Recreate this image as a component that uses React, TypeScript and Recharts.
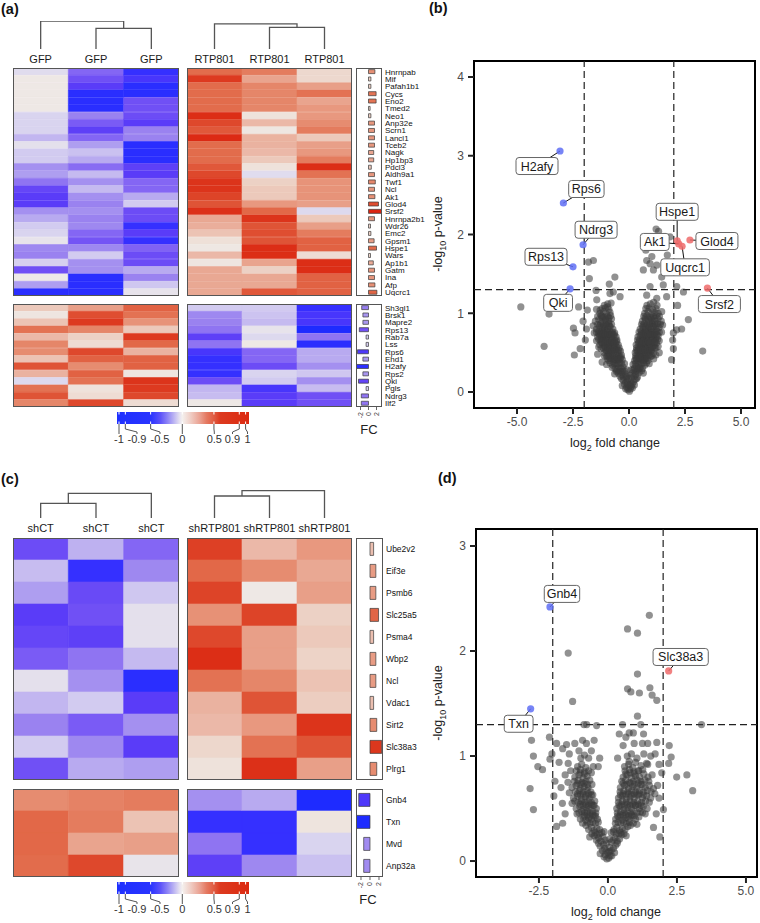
import React from 'react';
import { BarChart, Bar, Cell, XAxis, YAxis, ScatterChart, Scatter, ReferenceLine, ReferenceArea } from 'recharts';

// ---------------- data ----------------
const gfpLabels = ['GFP', 'GFP', 'GFP'];
const rtpLabels = ['RTP801', 'RTP801', 'RTP801'];
const shctLabels = ['shCT', 'shCT', 'shCT'];
const shrtpLabels = ['shRTP801', 'shRTP801', 'shRTP801'];

// dendrogram merges: [childA, childB, height] (leaves 0..2, merges numbered from 3)
const aGfpTree = [[1, 2, 0.74], [0, 3, 1.0]];
const aRtpTree = [[1, 2, 0.775], [0, 3, 0.9]];
const cCtTree = [[0, 1, 0.525], [3, 2, 0.88]];
const cRtpTree = [[0, 1, 0.786], [3, 2, 0.975]];

const aUpGenes = ['Hnrnpab', 'Mif', 'Pafah1b1', 'Cycs', 'Eno2', 'Tmed2', 'Neo1', 'Anp32e', 'Scrn1', 'Lancl1', 'Tceb2', 'Nagk', 'Hp1bp3', 'Pdcl3', 'Aldh9a1', 'Twf1', 'Ncl', 'Ak1', 'Glod4', 'Srsf2', 'Hnrnpa2b1', 'Wdr26', 'Emc2', 'Gpsm1', 'Hspe1', 'Wars', 'Ap1b1', 'Gatm', 'Ina', 'Afp', 'Uqcrc1'];
const aUpCtrl = [
  [-0.1, -0.6, -0.9], [0.02, -0.7, -0.85], [0.02, -0.8, -0.95], [0.02, -0.95, -0.95], [0.02, -0.95, -0.7],
  [0.02, -0.95, -0.7], [-0.15, -0.5, -0.72], [-0.15, -0.65, -0.8], [-0.15, -0.78, -0.5], [-0.3, -0.6, -0.5],
  [-0.07, -0.4, -0.95], [-0.2, -0.25, -0.95], [-0.2, -0.35, -0.95], [-0.45, -0.58, -0.78], [-0.4, -0.28, -0.8],
  [-0.55, -0.45, -0.6], [-0.75, -0.28, -0.6], [-0.8, -0.45, -0.35], [-0.8, -0.5, -0.2], [-0.45, -0.45, -0.72],
  [-0.35, -0.5, -0.72], [-0.2, -0.48, -0.9], [-0.15, -0.6, -0.8], [-0.05, -0.68, -0.9], [-0.48, -0.48, -0.62],
  [-0.5, -0.2, -0.72], [-0.17, -0.45, -0.72], [-0.7, -0.45, -0.35], [0.0, -0.95, -0.5], [-0.4, -0.95, -0.22],
  [-0.95, -0.95, -0.05],
];
const aUpTreat = [
  [0.6, 0.55, 0.14], [0.85, 0.4, 0.14], [0.6, 0.52, 0.42], [0.6, 0.52, 0.58], [0.6, 0.52, 0.4],
  [0.6, 0.52, 0.45], [0.92, 0.08, 0.45], [0.78, 0.3, 0.5], [0.7, 0.04, 0.55], [0.95, 0.33, 0.22],
  [0.6, 0.33, 0.42], [0.6, 0.3, 0.45], [0.6, 0.22, 0.55], [0.7, 0.08, 0.92], [0.78, -0.1, 0.58],
  [0.88, 0.18, 0.47], [0.88, 0.22, 0.47], [0.8, 0.22, 0.47], [0.72, 0.45, 0.42], [0.9, 0.62, -0.12],
  [0.38, 0.88, 0.22], [0.35, 0.72, 0.42], [0.25, 0.75, 0.55], [0.1, 0.72, 0.65], [0.03, 0.92, 0.65],
  [0.3, 0.92, 0.12], [0.05, 0.4, 0.92], [0.38, 0.18, 0.92], [0.38, 0.38, 0.65], [0.38, 0.38, 0.65],
  [0.38, 0.7, 0.65],
];
const aUpFC = [1.6, 0.6, 0.6, 1.9, 1.9, 0.4, 0.6, 1.5, 1.5, 1.5, 1.5, 1.3, 1.3, 0.7, 1.5, 1.7, 1.5, 1.6, 2.5, 3.4, 1.5, 0.5, 0.6, 1.4, 2.0, 0.5, 1.2, 1.5, 1.5, 1.6, 2.1];

const aDownGenes = ['Sh3gl1', 'Brsk1', 'Mapre2', 'Rps13', 'Rab7a', 'Lss', 'Rps6', 'Ehd1', 'H2afy', 'Rps2', 'Qki', 'Pgls', 'Ndrg3', 'Ilf2'];
const aDownCtrl = [
  [0.22, 0.42, 0.65], [0.05, 0.75, 0.58], [0.25, 0.85, 0.47], [0.58, 0.52, 0.22], [0.3, 0.18, 0.85],
  [0.52, 0.12, 0.62], [0.5, 0.78, 0.33], [0.25, 0.65, 0.65], [0.72, 0.5, 0.65], [0.33, 0.65, 0.05],
  [-0.12, 0.58, 0.88], [0.58, 0.08, 0.85], [0.72, 0.12, 0.78], [0.52, 0.78, 0.12],
];
const aDownTreat = [
  [-0.2, -0.2, -0.9], [-0.48, -0.24, -0.85], [-0.5, -0.28, -0.85], [-0.55, -0.05, -1.0], [-0.78, -0.12, -0.55],
  [-0.55, 0.02, -0.95], [-0.85, -0.6, -0.35], [-0.9, -0.6, -0.35], [-0.9, -0.72, -0.45], [-0.9, -0.15, -0.22],
  [-0.72, -0.2, -0.45], [-0.3, -0.85, -0.27], [-0.27, -0.8, -0.7], [0.02, -0.8, -0.7],
];
const aDownFC = [-1.7, -1.4, -1.4, -2.3, -0.6, -0.6, -2.75, -1.4, -3.1, -1.4, -2.5, -0.6, -1.8, -1.8];

const cUpGenes = ['Ube2v2', 'Eif3e', 'Psmb6', 'Slc25a5', 'Psma4', 'Wbp2', 'Ncl', 'Vdac1', 'Sirt2', 'Slc38a3', 'Plrg1'];
const cUpCtrl = [
  [-0.72, -0.32, -0.6], [-0.27, -0.9, -0.48], [-0.4, -0.73, -0.22], [-0.8, -0.7, -0.07], [-0.75, -0.78, -0.07],
  [-0.65, -0.55, -0.28], [-0.07, -0.45, -0.95], [-0.3, -0.2, -0.8], [-0.5, -0.65, -0.45], [-0.2, -0.48, -0.8],
  [-0.7, -0.35, -0.4],
];
const cUpTreat = [
  [0.82, 0.3, 0.45], [0.62, 0.5, 0.38], [0.8, 0.02, 0.42], [0.48, 0.8, 0.18], [0.78, 0.42, 0.22],
  [0.92, 0.42, 0.17], [0.58, 0.52, 0.25], [0.33, 0.72, 0.2], [0.3, 0.45, 0.88], [0.15, 0.58, 0.72],
  [0.08, 0.9, 0.42],
];
const cUpFC = [0.8, 1.3, 1.3, 1.9, 0.8, 1.3, 1.3, 0.8, 1.5, 2.6, 1.5];

const cDownGenes = ['Gnb4', 'Txn', 'Mvd', 'Anp32a'];
const cDownCtrl = [[0.5, 0.53, 0.55], [0.62, 0.55, 0.25], [0.62, 0.4, 0.42], [0.6, 0.78, -0.04]];
const cDownTreat = [[-0.45, -0.35, -1.0], [-0.9, -0.9, 0.06], [-0.55, -0.9, -0.15], [-0.78, -0.48, -0.25]];
const cDownFC = [-2.5, -3.0, -1.4, -1.4];

const colourBarTicks = [-1, -0.9, -0.5, 0, 0.5, 0.9, 1];

// volcano (b): non-significant genes [log2FC, -log10 p]
const bGray: number[][] = [
  [-0.05, 0.03], [0.02, 0.01], [0.06, 0.04], [-0.1, 0.06], [0.1, 0.07], [-0.02, 0.05],
  [-0.2, 0.1], [-0.14, 0.12], [0.14, 0.1], [0.2, 0.13], [-0.26, 0.15], [0.27, 0.16], [0.08, 0.12], [-0.08, 0.14],
  [-0.4, 0.2], [-0.32, 0.22], [-0.24, 0.19], [0.22, 0.2], [0.3, 0.22], [0.38, 0.19], [-0.48, 0.24], [0.46, 0.25], [0.15, 0.24], [-0.16, 0.23],
  [-0.62, 0.3], [-0.54, 0.28], [-0.45, 0.31], [-0.36, 0.3], [-0.27, 0.32], [0.24, 0.3], [0.32, 0.33], [0.4, 0.29], [0.5, 0.31], [0.6, 0.3], [-0.72, 0.34], [0.7, 0.34], [0.18, 0.35], [-0.2, 0.36],
  [-0.9, 0.4], [-0.8, 0.42], [-0.7, 0.39], [-0.6, 0.41], [-0.5, 0.4], [-0.4, 0.43], [-0.3, 0.41], [0.25, 0.4], [0.34, 0.42], [0.44, 0.39], [0.54, 0.41], [0.64, 0.4], [0.74, 0.43], [0.84, 0.4], [-1.0, 0.45], [0.95, 0.45], [-1.2, 0.38], [1.1, 0.42],
  [-1.1, 0.5], [-1.0, 0.52], [-0.9, 0.49], [-0.8, 0.51], [-0.7, 0.5], [-0.6, 0.53], [-0.5, 0.5], [-0.38, 0.52], [0.28, 0.5], [0.38, 0.52], [0.48, 0.49], [0.58, 0.51], [0.68, 0.5], [0.78, 0.53], [0.88, 0.5], [0.98, 0.52], [1.08, 0.49], [-1.25, 0.55], [1.2, 0.56], [-1.4, 0.48], [1.35, 0.5],
  [-1.3, 0.6], [-1.2, 0.62], [-1.1, 0.59], [-1.0, 0.61], [-0.9, 0.6], [-0.8, 0.63], [-0.7, 0.6], [-0.6, 0.62], [-0.48, 0.6], [0.32, 0.6], [0.42, 0.62], [0.52, 0.59], [0.62, 0.61], [0.72, 0.6], [0.82, 0.63], [0.92, 0.6], [1.02, 0.62], [1.12, 0.59], [1.22, 0.62], [-1.45, 0.65], [1.35, 0.65],
  [-1.4, 0.7], [-1.3, 0.72], [-1.2, 0.69], [-1.1, 0.71], [-1.0, 0.7], [-0.9, 0.73], [-0.8, 0.7], [-0.7, 0.72], [-0.58, 0.7], [0.4, 0.7], [0.5, 0.72], [0.6, 0.69], [0.7, 0.71], [0.8, 0.7], [0.9, 0.73], [1.0, 0.7], [1.1, 0.72], [1.2, 0.69], [1.3, 0.71], [-1.55, 0.75], [1.45, 0.76],
  [-1.45, 0.8], [-1.32, 0.82], [-1.2, 0.79], [-1.08, 0.81], [-0.96, 0.8], [-0.84, 0.83], [-0.72, 0.8], [0.5, 0.8], [0.62, 0.82], [0.74, 0.79], [0.86, 0.81], [0.98, 0.8], [1.1, 0.83], [1.22, 0.8], [1.34, 0.82], [-1.6, 0.84], [1.5, 0.85],
  [-1.5, 0.9], [-1.35, 0.92], [-1.2, 0.89], [-1.05, 0.91], [-0.9, 0.9], [-0.78, 0.93], [0.6, 0.9], [0.74, 0.92], [0.88, 0.89], [1.02, 0.91], [1.16, 0.9], [1.3, 0.93], [1.44, 0.9],
  [-1.3, 1.0], [-1.15, 1.02], [-1.0, 0.99], [-0.85, 1.01], [0.7, 1.0], [0.85, 1.02], [1.0, 0.99], [1.15, 1.01], [1.3, 1.0], [-1.45, 1.05],
  [-1.1, 1.1], [-0.95, 1.12], [-0.8, 1.13], [0.8, 1.1], [0.95, 1.12], [1.1, 1.14], [1.25, 1.1],
  [-0.15, 0.04], [0.15, 0.05], [-0.06, 0.1], [0.04, 0.09],
  [-0.34, 0.17], [0.34, 0.17], [-0.02, 0.17], [0.1, 0.18], [-0.12, 0.19], [0.24, 0.09], [-0.3, 0.08],
  [-0.56, 0.26], [-0.36, 0.26], [-0.28, 0.27], [0.28, 0.26], [0.36, 0.27], [0.56, 0.27], [0.1, 0.28], [-0.1, 0.28], [0.64, 0.24], [-0.64, 0.23],
  [-0.85, 0.37], [-0.66, 0.36], [-0.58, 0.36], [-0.5, 0.36], [-0.42, 0.37], [-0.34, 0.36], [0.28, 0.36], [0.36, 0.37], [0.45, 0.35], [0.55, 0.36], [0.65, 0.37], [0.78, 0.37], [0.9, 0.36], [-1.0, 0.35],
  [-1.1, 0.46], [-0.95, 0.46], [-0.85, 0.47], [-0.75, 0.46], [-0.65, 0.45], [-0.55, 0.47], [-0.45, 0.46], [-0.34, 0.47], [0.3, 0.46], [0.4, 0.47], [0.5, 0.45], [0.6, 0.46], [0.7, 0.47], [0.8, 0.46], [0.9, 0.47], [1.02, 0.46], [1.2, 0.47],
  [-1.35, 0.57], [-1.15, 0.56], [-1.05, 0.57], [-0.95, 0.56], [-0.85, 0.57], [-0.75, 0.56], [-0.65, 0.57], [-0.55, 0.57], [-0.44, 0.56], [0.34, 0.56], [0.44, 0.57], [0.54, 0.56], [0.64, 0.57], [0.74, 0.56], [0.84, 0.57], [0.94, 0.56], [1.04, 0.57], [1.14, 0.56], [1.3, 0.58],
  [-1.35, 0.67], [-1.25, 0.66], [-1.15, 0.67], [-1.05, 0.66], [-0.95, 0.67], [-0.85, 0.66], [-0.75, 0.67], [-0.65, 0.66], [-0.54, 0.66], [0.38, 0.66], [0.48, 0.67], [0.58, 0.66], [0.68, 0.67], [0.78, 0.66], [0.88, 0.67], [0.98, 0.66], [1.08, 0.67], [1.18, 0.66], [1.28, 0.67],
  [-1.45, 0.76], [-1.35, 0.77], [-1.25, 0.75], [-1.15, 0.76], [-1.05, 0.77], [-0.95, 0.76], [-0.85, 0.77], [-0.75, 0.76], [-0.64, 0.75], [0.45, 0.76], [0.55, 0.77], [0.65, 0.75], [0.75, 0.76], [0.85, 0.77], [0.95, 0.76], [1.05, 0.77], [1.15, 0.76], [1.25, 0.77], [1.35, 0.76],
  [-1.4, 0.86], [-1.26, 0.87], [-1.14, 0.85], [-1.02, 0.86], [-0.9, 0.87], [-0.78, 0.86], [0.56, 0.86], [0.68, 0.87], [0.8, 0.85], [0.92, 0.86], [1.04, 0.87], [1.16, 0.86], [1.28, 0.87], [1.4, 0.86],
  [-1.4, 0.96], [-1.25, 0.97], [-1.1, 0.95], [-0.95, 0.96], [-0.82, 0.97], [0.66, 0.96], [0.8, 0.97], [0.94, 0.95], [1.08, 0.96], [1.22, 0.97], [1.36, 0.96],
  [-1.2, 1.06], [-1.05, 1.07], [-0.9, 1.05], [0.75, 1.06], [0.9, 1.07], [1.05, 1.05], [1.2, 1.06],
  [-0.1, 0.2], [0.05, 0.21], [-0.2, 0.27], [0.2, 0.28], [-0.45, 0.27], [0.45, 0.3],
  [-0.75, 0.31], [-0.66, 0.42], [-0.55, 0.44], [-0.45, 0.42], [-0.35, 0.44], [0.3, 0.43], [0.4, 0.44], [0.5, 0.43], [0.6, 0.44], [0.7, 0.42], [0.8, 0.43], [-0.85, 0.43], [-0.95, 0.42],
  [-1.05, 0.54], [-0.95, 0.53], [-0.85, 0.54], [-0.75, 0.53], [-0.65, 0.54], [-0.55, 0.54], [-0.45, 0.53], [0.33, 0.53], [0.43, 0.54], [0.53, 0.53], [0.63, 0.54], [0.73, 0.53], [0.83, 0.54], [0.93, 0.53], [1.03, 0.54],
  [-1.25, 0.64], [-1.15, 0.64], [-1.05, 0.63], [-0.95, 0.64], [-0.85, 0.63], [-0.75, 0.64], [-0.65, 0.63], [-0.55, 0.64], [0.45, 0.64], [0.55, 0.63], [0.65, 0.64], [0.75, 0.63], [0.85, 0.64], [0.95, 0.63], [1.05, 0.64], [1.15, 0.63],
  [-1.35, 0.74], [-1.25, 0.73], [-1.15, 0.74], [-1.05, 0.73], [-0.95, 0.74], [-0.85, 0.73], [-0.75, 0.74], [-0.65, 0.73], [0.55, 0.74], [0.65, 0.73], [0.75, 0.74], [0.85, 0.73], [0.95, 0.74], [1.05, 0.73], [1.15, 0.74], [1.25, 0.73],
  [-1.3, 0.84], [-1.15, 0.83], [-1.0, 0.84], [-0.88, 0.84], [0.62, 0.84], [0.74, 0.83], [0.9, 0.84], [1.05, 0.83], [1.2, 0.84],
  [-1.2, 0.94], [-1.05, 0.93], [-0.9, 0.94], [0.72, 0.94], [0.86, 0.93], [1.0, 0.94], [1.15, 0.93],
  [-4.83, 1.08], [-3.79, 0.58], [-3.57, 0.99], [-2.7, 1.09], [-2.48, 0.81], [-2.41, 0.75], [-2.44, 0.47], [-2.18, 0.55], [-2.25, 1.08],
  [-1.81, 1.65], [-1.59, 1.67], [-1.77, 1.44], [-1.86, 1.04], [-1.47, 1.29], [-1.44, 1.17], [-0.88, 1.37], [-0.63, 1.46], [-0.7, 1.27],
  [-1.29, 1.04], [-1.21, 0.96], [-0.85, 1.25], [-0.95, 1.08], [-0.4, 1.21], [-1.9, 0.8], [-1.95, 0.66], [-2.05, 0.9],
  [0.64, 1.55], [0.79, 1.67], [0.94, 1.63], [1.09, 1.55], [1.24, 1.61], [1.46, 1.46], [1.71, 1.74], [1.12, 1.97], [1.32, 2.04], [1.83, 1.97],
  [1.24, 1.19], [0.79, 1.23], [0.94, 1.34], [1.53, 1.36], [1.68, 1.21], [2.13, 1.34], [2.17, 1.1], [2.43, 1.27], [2.65, 0.92], [2.35, 0.8],
  [1.98, 0.75], [1.98, 0.55], [3.29, 0.52], [1.46, 1.02], [1.21, 2.07], [1.95, 0.66], [2.13, 0.79], [1.9, 0.41], [0.75, 1.8], [1.02, 1.72],
];
const bDown = [
  { gene: 'H2afy', x: -3.08, y: 3.06 }, { gene: 'Rps6', x: -2.93, y: 2.4 }, { gene: 'Ndrg3', x: -2.05, y: 1.87 },
  { gene: 'Rps13', x: -2.5, y: 1.59 }, { gene: 'Qki', x: -2.63, y: 1.31 },
];
const bUp = [
  { gene: 'Hspe1', x: 2.15, y: 1.92 }, { gene: 'Ak1', x: 2.22, y: 1.88 }, { gene: 'Uqcrc1', x: 2.37, y: 1.85 },
  { gene: 'Glod4', x: 2.72, y: 1.93 }, { gene: 'Srsf2', x: 3.5, y: 1.32 },
];

// volcano (d)
const dGray: number[][] = [
  [-0.04, 0.02], [0.03, 0.03], [0.08, 0.05], [-0.1, 0.06], [0.0, 0.08],
  [-0.2, 0.1], [-0.12, 0.12], [0.12, 0.1], [0.2, 0.12], [-0.28, 0.14], [0.28, 0.15], [0.06, 0.13],
  [-0.42, 0.2], [-0.34, 0.22], [-0.26, 0.19], [-0.18, 0.23], [0.18, 0.2], [0.26, 0.22], [0.34, 0.19], [0.42, 0.21], [-0.5, 0.24], [0.5, 0.25],
  [-0.7, 0.3], [-0.6, 0.32], [-0.5, 0.29], [-0.4, 0.31], [-0.3, 0.3], [0.22, 0.3], [0.32, 0.32], [0.42, 0.29], [0.52, 0.31], [0.62, 0.3], [0.72, 0.33], [-0.8, 0.34], [0.82, 0.34],
  [-1.0, 0.4], [-0.9, 0.42], [-0.8, 0.39], [-0.7, 0.41], [-0.6, 0.4], [-0.5, 0.43], [-0.38, 0.4], [0.28, 0.4], [0.4, 0.42], [0.52, 0.39], [0.64, 0.41], [0.76, 0.4], [0.88, 0.43], [1.0, 0.4], [1.12, 0.42], [-1.12, 0.45], [1.25, 0.46],
  [-1.15, 0.5], [-1.02, 0.52], [-0.9, 0.49], [-0.78, 0.51], [-0.66, 0.5], [-0.54, 0.53], [-0.42, 0.5], [0.32, 0.5], [0.45, 0.52], [0.58, 0.49], [0.72, 0.51], [0.86, 0.5], [1.0, 0.53], [1.14, 0.5], [1.28, 0.52], [1.42, 0.5], [-1.3, 0.55],
  [-1.25, 0.6], [-1.1, 0.62], [-0.96, 0.59], [-0.82, 0.61], [-0.68, 0.6], [-0.55, 0.63], [0.38, 0.6], [0.52, 0.62], [0.66, 0.59], [0.8, 0.61], [0.95, 0.6], [1.1, 0.63], [1.25, 0.6], [1.4, 0.62], [1.55, 0.6], [-1.4, 0.65], [1.7, 0.64],
  [-1.3, 0.7], [-1.15, 0.72], [-1.0, 0.69], [-0.86, 0.71], [-0.72, 0.7], [-0.58, 0.73], [0.45, 0.7], [0.6, 0.72], [0.75, 0.69], [0.9, 0.71], [1.05, 0.7], [1.2, 0.73], [1.35, 0.7], [1.5, 0.72], [1.65, 0.69], [1.8, 0.72], [-1.45, 0.75],
  [-1.2, 0.8], [-1.05, 0.82], [-0.9, 0.79], [-0.75, 0.81], [-0.6, 0.84], [0.55, 0.8], [0.7, 0.82], [0.85, 0.79], [1.0, 0.81], [1.15, 0.8], [1.3, 0.83], [1.45, 0.8], [1.6, 0.82], [-1.35, 0.86],
  [-1.1, 0.9], [-0.95, 0.92], [-0.8, 0.89], [0.6, 0.9], [0.75, 0.92], [0.9, 0.89], [1.2, 0.91], [1.4, 0.93],
  [-0.98, 0.98], [-0.85, 1.01], [0.7, 1.0], [0.85, 1.02], [1.05, 0.98],
  [-0.14, 0.04], [0.14, 0.05], [-0.06, 0.1], [0.05, 0.09],
  [-0.34, 0.17], [0.34, 0.17], [-0.05, 0.17], [0.12, 0.18], [-0.16, 0.16], [0.24, 0.08], [-0.28, 0.07],
  [-0.58, 0.26], [-0.46, 0.27], [-0.3, 0.26], [0.3, 0.26], [0.46, 0.27], [0.58, 0.26], [0.12, 0.27], [-0.14, 0.28], [0.66, 0.24], [-0.66, 0.23],
  [-0.92, 0.36], [-0.75, 0.37], [-0.65, 0.36], [-0.55, 0.37], [-0.45, 0.36], [-0.35, 0.37], [0.27, 0.36], [0.37, 0.37], [0.47, 0.36], [0.57, 0.37], [0.67, 0.36], [0.78, 0.37], [0.92, 0.36], [1.05, 0.35],
  [-1.05, 0.46], [-0.95, 0.47], [-0.85, 0.46], [-0.75, 0.47], [-0.65, 0.46], [-0.55, 0.47], [-0.44, 0.46], [0.34, 0.46], [0.46, 0.47], [0.58, 0.46], [0.7, 0.47], [0.82, 0.46], [0.94, 0.47], [1.06, 0.46], [1.18, 0.47], [1.35, 0.45],
  [-1.2, 0.57], [-1.08, 0.56], [-0.96, 0.57], [-0.84, 0.56], [-0.72, 0.57], [-0.6, 0.56], [-0.48, 0.57], [0.38, 0.56], [0.52, 0.57], [0.66, 0.56], [0.8, 0.57], [0.94, 0.56], [1.08, 0.57], [1.22, 0.56], [1.36, 0.57], [1.5, 0.56],
  [-1.18, 0.66], [-1.04, 0.67], [-0.9, 0.66], [-0.76, 0.67], [-0.62, 0.66], [0.44, 0.66], [0.58, 0.67], [0.72, 0.66], [0.86, 0.67], [1.0, 0.66], [1.14, 0.67], [1.28, 0.66], [1.42, 0.67], [1.56, 0.66],
  [-1.22, 0.76], [-1.08, 0.77], [-0.94, 0.75], [-0.8, 0.76], [-0.66, 0.77], [0.5, 0.76], [0.64, 0.77], [0.78, 0.75], [0.92, 0.76], [1.06, 0.77], [1.2, 0.76], [1.34, 0.77], [1.48, 0.76],
  [-1.15, 0.86], [-1.0, 0.87], [-0.85, 0.85], [-0.7, 0.86], [0.62, 0.86], [0.78, 0.87], [0.94, 0.85], [1.1, 0.86], [1.26, 0.87],
  [-0.1, 0.2], [0.06, 0.21], [-0.22, 0.27], [0.2, 0.28], [-0.4, 0.25], [0.4, 0.26],
  [-0.85, 0.43], [-0.75, 0.44], [-0.65, 0.43], [-0.55, 0.44], [-0.45, 0.43], [0.35, 0.43], [0.45, 0.44], [0.55, 0.43], [0.65, 0.44], [0.75, 0.43], [0.85, 0.44], [0.95, 0.43],
  [-1.0, 0.54], [-0.9, 0.53], [-0.8, 0.54], [-0.7, 0.53], [-0.6, 0.54], [-0.5, 0.53], [0.4, 0.53], [0.5, 0.54], [0.6, 0.53], [0.7, 0.54], [0.8, 0.53], [0.9, 0.54], [1.0, 0.53], [1.1, 0.54], [1.2, 0.53],
  [-1.1, 0.64], [-1.0, 0.63], [-0.9, 0.64], [-0.8, 0.63], [-0.7, 0.64], [-0.6, 0.63], [0.45, 0.63], [0.55, 0.64], [0.65, 0.63], [0.75, 0.64], [0.85, 0.63], [0.95, 0.64], [1.05, 0.63], [1.15, 0.64], [1.3, 0.63],
  [-1.1, 0.74], [-0.98, 0.73], [-0.86, 0.74], [-0.74, 0.73], [0.55, 0.74], [0.68, 0.73], [0.82, 0.74], [0.96, 0.73], [1.1, 0.74], [1.25, 0.73],
  [-1.0, 0.84], [-0.85, 0.83], [0.65, 0.83], [0.8, 0.84], [0.95, 0.83],
  [-1.55, 0.82], [-1.7, 0.7], [-1.4, 1.02], [-1.2, 1.12], [-1.05, 1.05], [-0.7, 0.98], [-0.5, 1.15], [-0.3, 0.98], [0.35, 0.98], [0.55, 1.1],
  [0.65, 1.18], [1.25, 1.12], [1.55, 1.0], [1.85, 0.92], [1.85, 0.6], [1.75, 0.45], [1.65, 0.32], [-1.65, 0.55], [-1.55, 0.45],
  [-2.77, 1.15], [-2.7, 1.0], [-2.54, 0.9], [-2.37, 0.87], [-2.82, 0.69], [-2.7, 0.49], [-2.12, 1.18], [-2.03, 1.02], [-2.1, 0.97],
  [-1.92, 0.76], [-1.96, 0.62], [-1.86, 0.33], [-1.64, 0.36], [-1.86, 1.12], [-1.64, 1.07], [-1.5, 1.11], [-1.77, 0.94], [-1.44, 0.93],
  [-1.28, 1.52], [-0.92, 1.15], [-0.78, 1.12], [-0.6, 1.05], [-0.87, 1.3], [-0.41, 1.29], [-0.77, 1.3], [-0.53, 0.9], [-0.35, 0.9],
  [0.41, 1.21], [0.53, 1.3], [0.77, 1.22], [0.92, 1.22], [1.07, 1.38], [1.19, 1.3], [1.29, 1.21], [0.95, 1.12], [1.44, 1.12],
  [1.77, 1.13], [1.71, 1.02], [1.3, 1.02], [0.77, 0.95], [1.0, 0.94], [1.12, 0.86], [1.44, 0.92], [1.77, 1.53], [1.6, 1.58],
  [0.83, 1.61], [1.14, 1.6], [2.22, 1.1], [2.29, 0.99], [2.2, 0.93], [2.49, 0.8], [2.86, 0.82], [3.07, 0.67], [1.95, 0.84],
  [2.01, 0.49], [1.88, 0.23], [3.39, 1.3], [-1.44, 1.98], [1.5, 2.34], [0.71, 2.21], [1.07, 2.17], [1.07, 1.78], [0.71, 1.64], [1.52, 1.65],
];
const dDown = [{ gene: 'Gnb4', x: -2.1, y: 2.42 }, { gene: 'Txn', x: -2.8, y: 1.45 }];
const dUp = [{ gene: 'Slc38a3', x: 2.2, y: 1.81 }];

// ---------------- layout / style ----------------
const FONT = '"Liberation Sans", Arial, Helvetica, sans-serif';
const labelOffsets: Record<string, number[]> = {
  H2afy: [-23, 15], Rps6: [23, -14], Ndrg3: [13, -15], Rps13: [-27, -10], Qki: [-12, 14],
  Hspe1: [0, -29], Ak1: [-24, -2], Uqcrc1: [3, 21], Glod4: [27, 1], Srsf2: [12, 16],
  Gnb4: [12, -13], Slc38a3: [12, -14], Txn: [-12, 15],
};

const heatStops: [number, string][] = [
  [-1.0, '#1e2bff'], [-0.9, '#3530ff'], [-0.8, '#5a3cf8'], [-0.7, '#7050f5'], [-0.6, '#8466f4'],
  [-0.5, '#9a82f0'], [-0.4, '#ae9ef0'], [-0.3, '#c2b6f0'], [-0.2, '#d2cbf0'], [-0.1, '#e0dcee'],
  [0, '#eeeae8'], [0.1, '#eee0d8'], [0.2, '#eccdc0'], [0.3, '#ebb8a8'], [0.4, '#e9a48e'],
  [0.5, '#e68c70'], [0.6, '#e26c4c'], [0.7, '#e0583a'], [0.8, '#dd4428'], [0.9, '#dc3018'], [1.0, '#dc2410'],
];
function hexToRgb(h: string) {
  return [parseInt(h.slice(1, 3), 16), parseInt(h.slice(3, 5), 16), parseInt(h.slice(5, 7), 16)];
}
function heatColour(v: number) {
  const t = Math.max(-1, Math.min(1, v));
  for (let i = 0; i < heatStops.length - 1; i++) {
    const [a, ca] = heatStops[i];
    const [b, cb] = heatStops[i + 1];
    if (t >= a && t <= b) {
      const f = (t - a) / (b - a);
      const A = hexToRgb(ca), B = hexToRgb(cb);
      const c = A.map((x, k) => Math.round(x + (B[k] - x) * f));
      return `rgb(${c[0]},${c[1]},${c[2]})`;
    }
  }
  return heatStops[heatStops.length - 1][1];
}

const NoDot = () => <g />;

function Dendro({ merges, labels, left, top, width }: any) {
  const xs = [0.5, 1.5, 2.5];
  const hs = [0, 0, 0];
  const paths: { x: number; y: number }[][] = [];
  merges.forEach(([a, b, h]: number[]) => {
    paths.push([
      { x: xs[a], y: hs[a] }, { x: xs[a], y: h }, { x: xs[b], y: h }, { x: xs[b], y: hs[b] },
    ]);
    xs.push((xs[a] + xs[b]) / 2);
    hs.push(h);
  });
  return (
    <div style={{ position: 'absolute', left, top }}>
      <ScatterChart width={width} height={46} margin={{ top: 0, right: 0, bottom: 0, left: 0 }}>
        <XAxis type="number" dataKey="x" domain={[0, 3]} ticks={[0.5, 1.5, 2.5]} interval={0} allowDataOverflow
          tickFormatter={(v: number) => labels[Math.floor(v)]} height={18} tickLine={false} axisLine={false}
          tickSize={0} tickMargin={6} tick={{ fontSize: 11, fill: '#1a1a1a' }} />
        <YAxis type="number" dataKey="y" domain={[0, 1]} hide allowDataOverflow />
        {paths.map((p, i) => (
          <Scatter key={i} data={p} isAnimationActive={false} shape={NoDot}
            line={{ stroke: '#555', strokeWidth: 1.3 }} lineType="joint" />
        ))}
      </ScatterChart>
    </div>
  );
}

function HeatBlock({ genes, values, left, top, width, height }: any) {
  const data = genes.map((g: string) => ({ gene: g, c0: 1, c1: 1, c2: 1 }));
  return (
    <div style={{ position: 'absolute', left, top, width, height }}>
      <BarChart layout="vertical" width={width} height={height} data={data} margin={{ top: 0, right: 0, bottom: 0, left: 0 }} barCategoryGap={0} barGap={0}>
        <XAxis type="number" domain={[0, 3]} hide />
        <YAxis type="category" dataKey="gene" hide />
        {[0, 1, 2].map((j) => (
          <Bar key={j} dataKey={'c' + j} stackId="s" isAnimationActive={false}>
            {values.map((row: number[], i: number) => (
              <Cell key={i} fill={heatColour(row[j])} stroke={heatColour(row[j])} strokeWidth={0.6} />
            ))}
          </Bar>
        ))}
      </BarChart>
      <div style={{ position: 'absolute', left: 0, top: 0, width, height, border: '1.2px solid #555', boxSizing: 'border-box' }} />
    </div>
  );
}

const RotTick = (props: any) => {
  const { x, y, payload } = props;
  return (
    <text transform={`translate(${x + 2.5},${y}) rotate(-90)`} textAnchor="end" fontSize={7} fill="#444">
      {payload.value}
    </text>
  );
};

function FCBars({ genes, fc, div, left, top, plotW, plotH, showAxis, fontSize, domain, gap }: any) {
  const data = genes.map((g: string, i: number) => ({ gene: g, fc: fc[i] }));
  const axisH = showAxis ? 16 : 0;
  const labelW = 48;
  return (
    <div style={{ position: 'absolute', left, top, width: plotW + labelW, height: plotH + axisH }}>
      <BarChart layout="vertical" width={plotW + labelW} height={plotH + axisH} data={data}
        margin={{ top: 0, right: 0, bottom: 0, left: 0 }} barCategoryGap={gap}>
        <XAxis type="number" domain={domain} ticks={[-2, 0, 2]} hide={!showAxis} height={axisH} axisLine={false}
          tickSize={3} tickMargin={2} tickLine={{ stroke: '#666' }} tick={<RotTick />} interval={0} allowDataOverflow />
        <YAxis type="category" dataKey="gene" orientation="right" width={labelW} interval={0} tickLine={false}
          axisLine={false} tickSize={0} tickMargin={3} tick={{ fontSize, fill: '#111' }} />
        <Bar dataKey="fc" isAnimationActive={false} stroke="#3a3a3a" strokeWidth={0.7}>
          {fc.map((v: number, i: number) => (
            <Cell key={i} fill={heatColour(v / div)} />
          ))}
        </Bar>
      </BarChart>
      <div style={{ position: 'absolute', left: 0, top: 0, width: plotW, height: plotH, border: '1.2px solid #555', boxSizing: 'border-box' }} />
    </div>
  );
}

const GrayDot = (props: any) => <circle cx={props.cx} cy={props.cy} r={3.6} fill="#3a3a3a" fillOpacity={0.56} />;

function makeLabeled(colour: string) {
  return (props: any) => {
    const { cx, cy, payload } = props;
    const off = labelOffsets[payload.gene] || [0, -20];
    const lx = cx + off[0];
    const ly = cy + off[1];
    const w = payload.gene.length * 6.6 + 9;
    const h = 17;
    return (
      <g>
        <line x1={cx} y1={cy} x2={lx} y2={ly} stroke="#111" strokeWidth={1} />
        <circle cx={cx} cy={cy} r={3.6} fill={colour} fillOpacity={0.85} />
        <rect x={lx - w / 2} y={ly - h / 2} width={w} height={h} rx={3} ry={3} fill="#fff" stroke="#666" strokeWidth={1} />
        <text x={lx} y={ly + 4.5} textAnchor="middle" fontSize={12.5} fill="#1a1a1a">{payload.gene}</text>
      </g>
    );
  };
}
const BlueLabeled = makeLabeled('#5f6ff5');
const RedLabeled = makeLabeled('#ef6b6b');

function Volcano({ gray, up, down, left, top, width, height, margin, xDomain, yDomain, xTicks, yTicks, xAxisH, yAxisW }: any) {
  const grayData = gray.map((p: number[]) => ({ x: p[0], y: p[1] }));
  const axisTick = { fontSize: 12, fill: '#4d4d4d' };
  return (
    <div style={{ position: 'absolute', left, top }}>
      <ScatterChart width={width} height={height} margin={margin}>
        <XAxis type="number" dataKey="x" domain={xDomain} ticks={xTicks} interval={0} allowDataOverflow
          tickFormatter={(v: number) => v.toFixed(1)} height={xAxisH} axisLine={false} tickSize={6} tickMargin={3}
          tickLine={{ stroke: '#222', strokeWidth: 2 }} tick={axisTick} />
        <YAxis type="number" dataKey="y" domain={yDomain} ticks={yTicks} interval={0} allowDataOverflow
          width={yAxisW} axisLine={false} tickSize={6} tickMargin={4}
          tickLine={{ stroke: '#222', strokeWidth: 2 }} tick={axisTick} />
        <ReferenceLine x={-2} stroke="#222" strokeDasharray="7 4" strokeWidth={1.2} />
        <ReferenceLine x={2} stroke="#222" strokeDasharray="7 4" strokeWidth={1.2} />
        <ReferenceLine y={1.3} stroke="#222" strokeDasharray="7 4" strokeWidth={1.2} />
        <Scatter data={grayData} isAnimationActive={false} shape={GrayDot} />
        <Scatter data={down} isAnimationActive={false} shape={BlueLabeled} />
        <Scatter data={up} isAnimationActive={false} shape={RedLabeled} />
        <ReferenceArea x1={xDomain[0]} x2={xDomain[1]} y1={yDomain[0]} y2={yDomain[1]} fill="none" fillOpacity={0}
          stroke="#000" strokeWidth={2} ifOverflow="visible" />
      </ScatterChart>
    </div>
  );
}

// colour bar legend
const cbLeft = 117, cbWidth = 132, cbHeight = 12;
const cbValueX = (v: number) => 182.3 + v * 63.3;
const cbLabelX = [119, 137, 160, 182.3, 214.3, 232.5, 247.5];
const cbStops: [number, string][] = [
  [0, '#1e30ff'], [0.258, '#2a34ff'], [0.326, '#5a50fa'], [0.379, '#8a80f6'], [0.427, '#b8b0f3'],
  [0.477, '#e8e4f0'], [0.495, '#f4f0ee'], [0.553, '#f0d0c8'], [0.629, '#eaa090'], [0.68, '#e47860'],
  [0.737, '#e05a40'], [0.78, '#dc3a20'], [1, '#dc2a10'],
];
function ColourBar({ y, id }: any) {
  const bottom = y + cbHeight;
  return (
    <g>
      <defs>
        <linearGradient id={id} x1="0" x2="1" y1="0" y2="0">
          {cbStops.map(([o, c], i) => <stop key={i} offset={o} stopColor={c} />)}
        </linearGradient>
      </defs>
      <rect x={cbLeft} y={y} width={cbWidth} height={cbHeight} fill={`url(#${id})`} />
      {colourBarTicks.map((v, i) => {
        const tx = cbValueX(v);
        const lx = cbLabelX[i];
        return (
          <g key={i}>
            <line x1={tx} y1={y} x2={tx} y2={y + 2.5} stroke="#fff" strokeWidth={1} />
            <line x1={tx} y1={bottom - 2.5} x2={tx} y2={bottom} stroke="#fff" strokeWidth={1} />
            <polyline points={`${tx},${bottom} ${tx},${bottom + 5} ${lx},${bottom + 8} ${lx},${bottom + 10}`} fill="none" stroke="#555" strokeWidth={1} />
            <text x={lx} y={bottom + 19} textAnchor="middle" fontSize={11} fill="#333">{v}</text>
          </g>
        );
      })}
    </g>
  );
}

function Overlay() {
  const sub = (main: string, s: string, rest: string) => (
    <>
      {main}
      <tspan dy={3.5} fontSize={9}>{s}</tspan>
      <tspan dy={-3.5}>{rest}</tspan>
    </>
  );
  return (
    <svg width={760} height={923} style={{ position: 'absolute', left: 0, top: 0, pointerEvents: 'none' }}>
      <g fontFamily={FONT}>
        <text x={1} y={14} fontSize={14.5} fontWeight="bold" fill="#111">(a)</text>
        <text x={429} y={13} fontSize={14.5} fontWeight="bold" fill="#111">(b)</text>
        <text x={1} y={484} fontSize={14.5} fontWeight="bold" fill="#111">(c)</text>
        <text x={438} y={483} fontSize={14.5} fontWeight="bold" fill="#111">(d)</text>

        <ColourBar y={412} id="cbA" />
        <ColourBar y={882} id="cbC" />
        <text x={369} y={434} fontSize={13} textAnchor="middle" fill="#222">FC</text>
        <text x={368} y={904} fontSize={13} textAnchor="middle" fill="#222">FC</text>

        <text x={615} y={447} fontSize={12.5} textAnchor="middle" fill="#222">{sub('log', '2', ' fold change')}</text>
        <text transform="translate(442,234) rotate(-90)" fontSize={12.5} textAnchor="middle" fill="#222">{sub('-log', '10', ' p-value')}</text>
        <text x={616} y={916} fontSize={12.5} textAnchor="middle" fill="#222">{sub('log', '2', ' fold change')}</text>
        <text transform="translate(442,703) rotate(-90)" fontSize={12.5} textAnchor="middle" fill="#222">{sub('-log', '10', ' p-value')}</text>
      </g>
    </svg>
  );
}

export default function App() {
  return (
    <div style={{ position: 'absolute', left: 0, top: 0, width: 760, height: 923, background: '#fff', fontFamily: FONT, overflow: 'hidden' }}>
      {/* panel (a) */}
      <Dendro merges={aGfpTree} labels={gfpLabels} left={13} top={21} width={166} />
      <Dendro merges={aRtpTree} labels={rtpLabels} left={187} top={21} width={165} />
      <HeatBlock genes={aUpGenes} values={aUpCtrl} left={13} top={68} width={166} height={228} />
      <HeatBlock genes={aUpGenes} values={aUpTreat} left={187} top={68} width={165} height={228} />
      <FCBars genes={aUpGenes} fc={aUpFC} div={3.3} left={356} top={68} plotW={26} plotH={228} showAxis={false} fontSize={8} domain={[-3.125, 3.375]} gap="22%" />
      <HeatBlock genes={aDownGenes} values={aDownCtrl} left={13} top={304} width={166} height={103} />
      <HeatBlock genes={aDownGenes} values={aDownTreat} left={187} top={304} width={165} height={103} />
      <FCBars genes={aDownGenes} fc={aDownFC} div={3.3} left={356} top={304} plotW={26} plotH={103} showAxis fontSize={8} domain={[-3.125, 3.375]} gap="22%" />

      {/* panel (b) */}
      <Volcano gray={bGray} up={bUp} down={bDown} left={380} top={0} width={380} height={460}
        margin={{ top: 61, right: 5, bottom: 0, left: 0 }} xDomain={[-6.92, 5.625]} yDomain={[-0.203, 4.203]}
        xTicks={[-5, -2.5, 0, 2.5, 5]} yTicks={[0, 1, 2, 3, 4]} xAxisH={52} yAxisW={94} />

      {/* panel (c) */}
      <Dendro merges={cCtTree} labels={shctLabels} left={13} top={490} width={166} />
      <Dendro merges={cRtpTree} labels={shrtpLabels} left={187} top={490} width={165} />
      <HeatBlock genes={cUpGenes} values={cUpCtrl} left={13} top={538} width={166} height={242} />
      <HeatBlock genes={cUpGenes} values={cUpTreat} left={187} top={538} width={165} height={242} />
      <FCBars genes={cUpGenes} fc={cUpFC} div={3.0} left={356} top={538} plotW={27} plotH={242} showAxis={false} fontSize={8.5} domain={[-3.11, 2.89]} gap="20%" />
      <HeatBlock genes={cDownGenes} values={cDownCtrl} left={13} top={789} width={166} height={88} />
      <HeatBlock genes={cDownGenes} values={cDownTreat} left={187} top={789} width={165} height={88} />
      <FCBars genes={cDownGenes} fc={cDownFC} div={3.0} left={356} top={789} plotW={27} plotH={88} showAxis fontSize={8.5} domain={[-3.11, 2.89]} gap="20%" />

      {/* panel (d) */}
      <Volcano gray={dGray} up={dUp} down={dDown} left={380} top={460} width={380} height={463}
        margin={{ top: 69, right: 3, bottom: 0, left: 0 }} xDomain={[-4.78, 5.4]} yDomain={[-0.152, 3.162]}
        xTicks={[-2.5, 0, 2.5, 5]} yTicks={[0, 1, 2, 3]} xAxisH={46} yAxisW={96} />

      <Overlay />
    </div>
  );
}
